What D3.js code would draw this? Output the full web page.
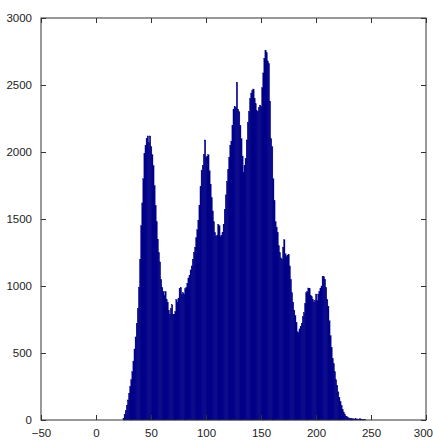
<!DOCTYPE html>
<html>
<head>
<meta charset="utf-8">
<script src="https://cdn.jsdelivr.net/npm/d3@7"></script>
<style>
  html, body { margin: 0; padding: 0; background: #ffffff; }
  svg { display: block; }
  text { font-family: "Liberation Sans", Arial, sans-serif; fill: #222; }
</style>
</head>
<body>
<svg id="chart" width="433" height="442"></svg>
<script>
// Histogram: intensity levels 0..255 (bin centers) and counts
const binCenters = d3.range(0, 256);
const counts = [
  // 0-24
  0,0,0,0,0,0,0,0,0,0,0,0,0,0,0,0,0,0,0,0,0,0,0,0,0,
  // 25-49
  10,40,70,110,150,200,250,300,360,440,530,620,720,830,990,1200,1450,1620,1800,1990,2050,2100,2120,2070,2120,
  // 50-74
  2040,1980,1900,1750,1600,1480,1350,1250,1180,1050,990,960,930,960,900,880,820,790,830,860,790,790,810,900,880,
  // 75-99
  910,980,990,940,950,940,980,990,1020,1060,1080,1120,1150,1200,1250,1290,1360,1420,1490,1600,1740,1860,1900,1980,2090,
  // 100-124
  1960,1970,1980,1860,1760,1660,1560,1480,1400,1370,1380,1460,1450,1370,1380,1400,1460,1570,1680,1780,1870,1960,2050,2080,2200,
  // 125-149
  2320,2340,2330,2520,2320,2300,2200,2100,1970,1850,1900,1950,2090,2220,2300,2400,2440,2460,2470,2400,2360,2310,2300,2330,2350,
  // 150-174
  2340,2480,2590,2700,2760,2740,2680,2660,2380,2100,2040,1800,1640,1480,1440,1400,1300,1250,1210,1200,1290,1345,1240,1220,1230,
  // 175-199
  1235,1150,1050,950,880,820,780,730,660,650,680,700,720,770,800,870,950,960,985,980,930,920,900,880,890,
  // 200-224
  940,890,940,960,980,1000,1070,1070,1050,990,900,850,740,630,540,460,420,360,300,260,210,170,140,110,80,
  // 225-249
  60,45,30,25,18,15,12,12,10,8,8,10,7,8,6,10,5,4,3,2,1,0,0,0,0,
  // 250-255
  0,0,0,0,0,0
];
const xTicks = [-50, 0, 50, 100, 150, 200, 250, 300];
const yTicks = [0, 500, 1000, 1500, 2000, 2500, 3000];

const svg = d3.select("#chart");
const plot = { left: 41, right: 426, top: 18, bottom: 420 };

const x = d3.scaleLinear().domain([-50, 300]).range([plot.left, plot.right]);
const y = d3.scaleLinear().domain([0, 3000]).range([plot.bottom, plot.top]);

svg.append("rect").attr("width", 433).attr("height", 442).attr("fill", "#ffffff");

const data = binCenters.map((c, i) => ({ c, n: counts[i] }));
const bw = x(1) - x(0);

svg.append("g")
  .selectAll("rect")
  .data(data.filter(d => d.n > 0))
  .join("rect")
  .attr("x", d => x(d.c - 0.5))
  .attr("width", bw + 0.35)
  .attr("y", d => y(d.n))
  .attr("height", d => y(0) - y(d.n))
  .attr("fill", "#000090")
  .attr("stroke", "#000078")
  .attr("stroke-width", 0.3);

// Axes (MATLAB style: box, inward ticks on all sides)
const tickLen = 5;
const axisColor = "#333";

const bottomAxis = d3.axisBottom(x).tickValues(xTicks).tickSize(-tickLen).tickPadding(9)
  .tickFormat(d3.format("d"));
const topAxis = d3.axisTop(x).tickValues(xTicks).tickSize(-tickLen).tickFormat("");
const leftAxis = d3.axisLeft(y).tickValues(yTicks).tickSize(-tickLen).tickPadding(9)
  .tickFormat(d3.format("d"));
const rightAxis = d3.axisRight(y).tickValues(yTicks).tickSize(-tickLen).tickFormat("");

function style(g) {
  g.select(".domain").remove();
  g.selectAll(".tick line").attr("stroke", axisColor);
  g.selectAll(".tick text")
    .attr("fill", "#222")
    .style("font-family", "'Liberation Sans', Arial, sans-serif")
    .style("font-size", "11.5px");
}

const gx = svg.append("g").attr("transform", `translate(0,${plot.bottom})`).call(bottomAxis).call(style);
// keep the last x label inside the window
gx.selectAll(".tick").filter(d => d === 300).select("text")
  .attr("text-anchor", "end").attr("dx", "6.5");
svg.append("g").attr("transform", `translate(0,${plot.top})`).call(topAxis).call(style);
svg.append("g").attr("transform", `translate(${plot.left},0)`).call(leftAxis).call(style);
svg.append("g").attr("transform", `translate(${plot.right},0)`).call(rightAxis).call(style);

svg.append("rect")
  .attr("x", plot.left).attr("y", plot.top)
  .attr("width", plot.right - plot.left).attr("height", plot.bottom - plot.top)
  .attr("fill", "none").attr("stroke", axisColor).attr("stroke-width", 1);
</script>
</body>
</html>
